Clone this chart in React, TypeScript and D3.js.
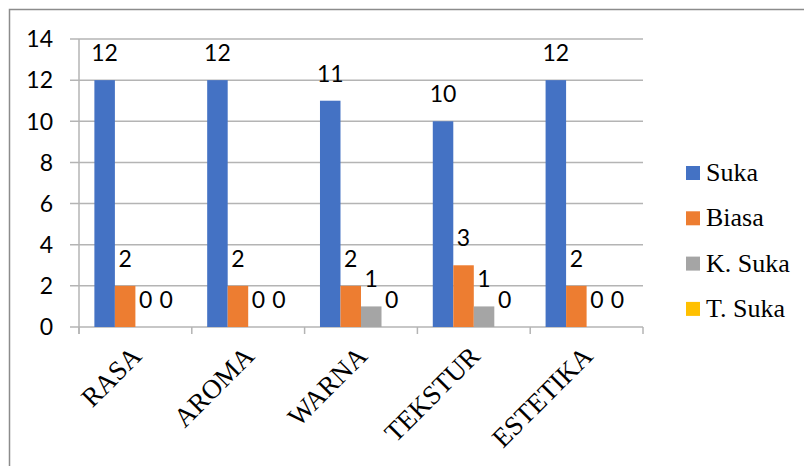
import { useEffect, useRef } from "react";
import * as d3 from "d3";

const CATEGORIES = ["RASA", "AROMA", "WARNA", "TEKSTUR", "ESTETIKA"];
const SERIES = ["Suka", "Biasa", "K. Suka", "T. Suka"];
const SUKA = [12, 12, 11, 10, 12];
const BIASA = [2, 2, 2, 3, 2];
const K_SUKA = [0, 0, 1, 1, 0];
const T_SUKA = [0, 0, 0, 0, 0];
const Y_TICKS = [0, 2, 4, 6, 8, 10, 12, 14];
const COLORS = ["#4472C4", "#ED7D31", "#A5A5A5", "#FFC000"];

const W = 804;
const H = 466;
// plot area
const left = 79;
const right = 643;
const top = 39;
const bottom = 327;

export default function App() {
  const ref = useRef<SVGSVGElement>(null);

  useEffect(() => {
    const svg = d3.select(ref.current);
    svg.selectAll("*").remove();

    const values = [SUKA, BIASA, K_SUKA, T_SUKA];

    // outer frame of the chart
    svg
      .append("rect")
      .attr("x", 9.5)
      .attr("y", 9.5)
      .attr("width", W)
      .attr("height", H)
      .attr("fill", "#fff")
      .attr("stroke", "#8c8c8c")
      .attr("stroke-width", 1.5);

    const x0 = d3.scaleBand().domain(CATEGORIES).range([left, right]).padding(0);
    const x1 = d3
      .scaleBand()
      .domain(SERIES)
      .range([0, x0.bandwidth()])
      .paddingInner(0)
      .paddingOuter(0.75);
    const y = d3.scaleLinear().domain([0, 14]).range([bottom, top]);

    // gridlines, they stick out to the left like tick marks
    svg
      .append("g")
      .selectAll("line")
      .data(Y_TICKS)
      .join("line")
      .attr("x1", left - 9)
      .attr("x2", right)
      .attr("y1", (d) => y(d))
      .attr("y2", (d) => y(d))
      .attr("stroke", "#b4b4b4")
      .attr("stroke-width", 1.5);

    // y axis line
    svg
      .append("line")
      .attr("x1", left)
      .attr("x2", left)
      .attr("y1", top)
      .attr("y2", bottom + 7)
      .attr("stroke", "#b4b4b4")
      .attr("stroke-width", 1.5);

    // category ticks below the x axis
    const edges = CATEGORIES.map((c) => x0(c)!).concat([right]);
    svg
      .append("g")
      .selectAll("line")
      .data(edges)
      .join("line")
      .attr("x1", (d) => d)
      .attr("x2", (d) => d)
      .attr("y1", bottom)
      .attr("y2", bottom + 7)
      .attr("stroke", "#b4b4b4")
      .attr("stroke-width", 1.5);

    // y tick labels
    svg
      .append("g")
      .selectAll("text")
      .data(Y_TICKS)
      .join("text")
      .attr("x", 53)
      .attr("y", (d) => y(d))
      .attr("dy", "0.36em")
      .attr("text-anchor", "end")
      .attr("font-family", "Lato, 'Open Sans', sans-serif")
      .attr("font-size", 23)
      .attr("fill", "#000")
      .text((d) => d);

    // bars
    const groups = svg
      .append("g")
      .selectAll("g")
      .data(CATEGORIES)
      .join("g")
      .attr("transform", (c) => `translate(${x0(c)},0)`);

    groups
      .selectAll("rect")
      .data((c, i) => SERIES.map((s, k) => ({ s, k, v: values[k][i] })))
      .join("rect")
      .attr("x", (d) => x1(d.s)!)
      .attr("y", (d) => y(d.v))
      .attr("width", x1.bandwidth())
      .attr("height", (d) => bottom - y(d.v))
      .attr("fill", (d) => COLORS[d.k]);

    // value labels
    groups
      .selectAll("text")
      .data((c, i) => SERIES.map((s, k) => ({ s, k, v: values[k][i] })))
      .join("text")
      .attr("x", (d) => x1(d.s)! + x1.bandwidth() / 2)
      .attr("y", (d) => y(d.v) - 19)
      .attr("text-anchor", "middle")
      .attr("font-family", "Lato, 'Open Sans', sans-serif")
      .attr("font-size", 23)
      .attr("fill", "#000")
      .text((d) => d.v);

    // rotated category labels
    svg
      .append("g")
      .selectAll("text")
      .data(CATEGORIES)
      .join("text")
      .attr(
        "transform",
        (c) => `translate(${x0(c)! + x0.bandwidth() / 2 + 1},${bottom + 24}) rotate(-45)`
      )
      .attr("text-anchor", "end")
      .attr("dy", "0.35em")
      .attr("font-family", "'Liberation Serif', 'Times New Roman', serif")
      .attr("font-size", 27)
      .attr("fill", "#000")
      .text((c) => c);

    // legend
    const legend = svg
      .append("g")
      .selectAll("g")
      .data(SERIES)
      .join("g")
      .attr("transform", (s, i) => `translate(686,${173 + i * 45.3})`);
    legend
      .append("rect")
      .attr("x", 0)
      .attr("y", -7)
      .attr("width", 14)
      .attr("height", 14)
      .attr("fill", (s, i) => COLORS[i]);
    legend
      .append("text")
      .attr("x", 20)
      .attr("y", 8)
      .attr("font-family", "'Liberation Serif', 'Times New Roman', serif")
      .attr("font-size", 26)
      .attr("fill", "#000")
      .text((s) => s);
  }, []);

  return (
    <>
      <style>{`body{margin:0}`}</style>
      <svg ref={ref} width={W} height={H} style={{ display: "block" }} />
    </>
  );
}
